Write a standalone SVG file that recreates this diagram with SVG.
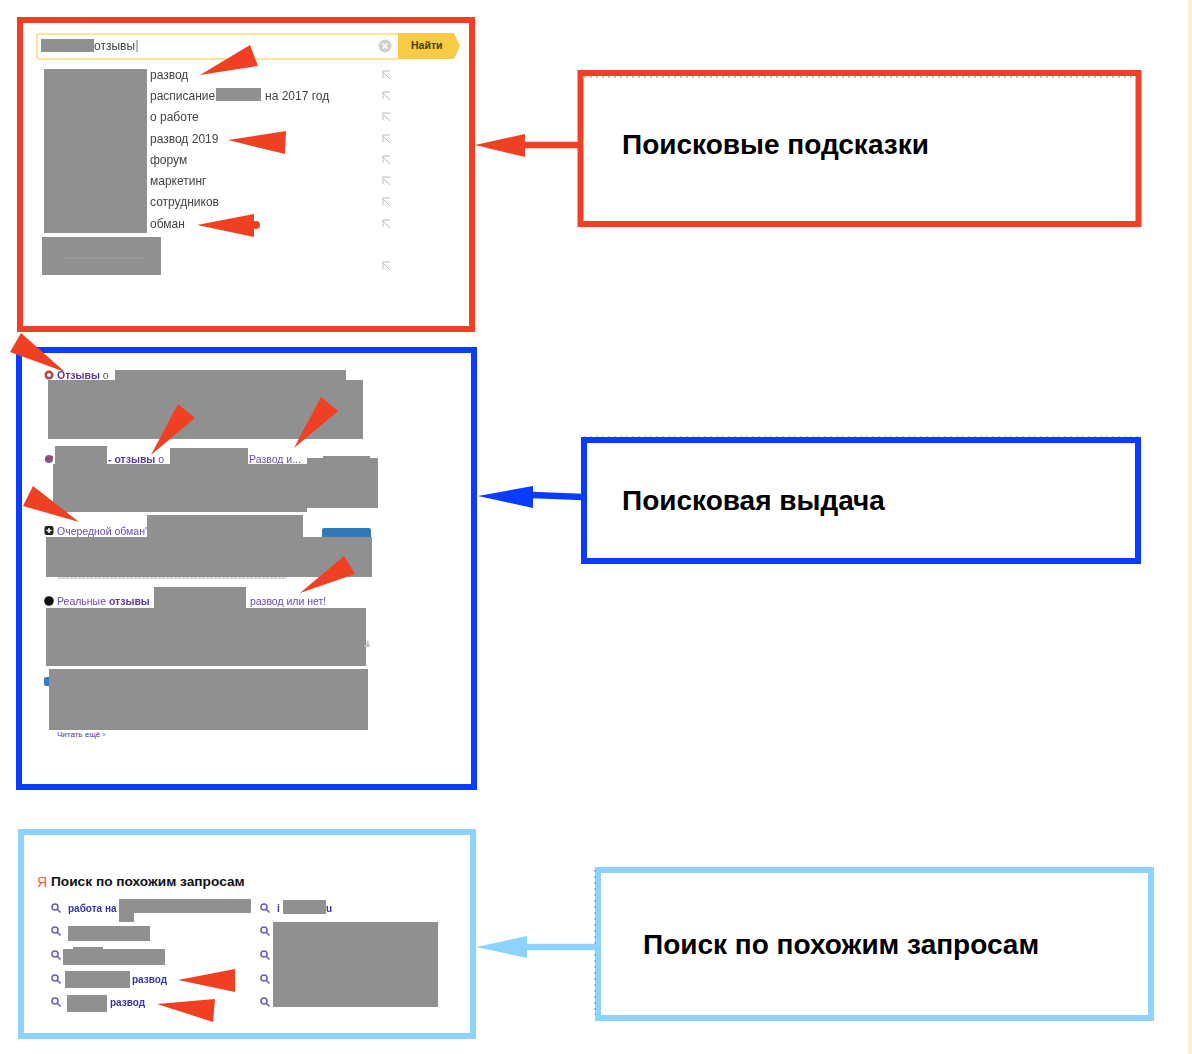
<svg xmlns="http://www.w3.org/2000/svg" width="1192" height="1054" viewBox="0 0 1192 1054">
<style>
text{font-family:"Liberation Sans",Arial,sans-serif}
.box{fill:#fff;stroke-width:6}
.red{stroke:#ef4023}.blue{stroke:#0a3cff}.sky{stroke:#8cd3ff}
.fr{fill:#ef4023}.fb{fill:#0a3cff}.fs{fill:#8cd3ff}
.grey{fill:#909090}
.tip{fill:#ef4023}
.lab{font-size:28px;font-weight:700;fill:#000}
.sug{font-size:12px;fill:#444;filter:blur(.3px)}
.res{font-size:10.5px;fill:#6a4aa8;filter:blur(.3px)}
.resb{font-weight:700;fill:#5a3a9e}
.rel{font-size:10px;font-weight:700;fill:#3a33b0;filter:blur(.3px)}
.ret{fill:none;stroke:#bcbcbc;stroke-width:1}
.mag{fill:none;stroke:#6a5cc0;stroke-width:1.6}
.dot{fill:none;stroke:#555;stroke-width:1;stroke-dasharray:2 4;opacity:.7}
</style>
<defs>
<g id="ret"><path class="ret" d="M-4-5H4M-3-4V2M-3-4L4 3"/></g>
<g id="mag"><circle class="mag" cx="-1" cy="-1" r="3"/><path class="mag" d="M1.2 1.2L4.5 4.5"/></g>
</defs>
<rect width="1192" height="1054" fill="#fff"/>
<rect x="1188" y="0" width="4" height="1054" fill="#ffefc2"/>

<g id="panel-suggestions">
<rect class="box red" x="20" y="20" width="452" height="309"/>
<rect x="37" y="34" width="362" height="25" rx="2" fill="#fff" stroke="#fbdc7e" stroke-width="1.5"/>
<path d="M398 33H454L460 46L454 59H398Z" fill="#f8cb45"/>
<text x="411" y="49" font-size="10.5" font-weight="700" fill="#4a3c10">Найти</text>
<rect class="grey" x="41" y="39" width="53" height="13"/>
<text x="94" y="50" class="sug">отзывы</text>
<path d="M137 40V52" stroke="#555" stroke-width=".8"/>
<circle cx="385" cy="46" r="6.5" fill="#d0d0d0"/>
<path d="M382.500 43.500L387.500 48.500M387.500 43.500L382.500 48.500" stroke="#fff" stroke-width="1.500"/>
<rect class="grey" x="44" y="69" width="103" height="164"/>
<rect class="grey" x="42" y="237" width="119" height="38"/>
<path d="M64 258H144" stroke="#a6a6a6" stroke-width=".7"/>
<path d="M73 100H113M73 100V200M110 110V193" stroke="#999" stroke-width=".6"/>
<text x="150" y="79" class="sug">развод</text>
<text x="150" y="100" class="sug">расписание</text>
<rect class="grey" x="216" y="88" width="45" height="13"/>
<text x="265" y="100" class="sug">на 2017 год</text>
<text x="150" y="121" class="sug">о работе</text>
<text x="150" y="143" class="sug">развод 2019</text>
<text x="150" y="164" class="sug">форум</text>
<text x="150" y="185" class="sug">маркетинг</text>
<text x="150" y="206" class="sug">сотрудников</text>
<text x="150" y="228" class="sug">обман</text>
<use href="#ret" x="386" y="76"/><use href="#ret" x="386" y="97"/><use href="#ret" x="386" y="118"/><use href="#ret" x="386" y="140"/><use href="#ret" x="386" y="161"/><use href="#ret" x="386" y="182"/><use href="#ret" x="386" y="203"/><use href="#ret" x="386" y="225"/><use href="#ret" x="386" y="267"/>
<polygon class="tip" points="200,75 250,45 258,66"/>
<polygon class="tip" points="228,140 286,131 285,154"/>
<polygon class="tip" points="197,225 254,214 254,237"/>
<circle class="tip" cx="256" cy="225" r="4"/>
</g>

<g id="panel-results">
<rect class="box blue" x="19" y="350" width="455" height="437"/>
<circle cx="49" cy="375" r="4.500" fill="#a84a4a"/><circle cx="49" cy="375" r="2" fill="#eee"/>
<text x="57" y="379" class="res"><tspan class="resb">Отзывы</tspan> о</text>
<rect class="grey" x="115" y="370" width="231" height="10"/>
<rect class="grey" x="48" y="380" width="315" height="59"/>
<circle cx="49" cy="459" r="4" fill="#5566bb"/><path d="M45 460L53 457" stroke="#d03030" stroke-width="2"/>
<rect class="grey" x="55" y="446" width="52" height="18"/>
<text x="108" y="463" class="res"><tspan class="resb">- отзывы</tspan> о</text>
<rect class="grey" x="170" y="448" width="78" height="16"/>
<text x="249" y="463" class="res">Развод и...</text>
<rect class="grey" x="53" y="464" width="254" height="48"/>
<rect class="grey" x="307" y="458" width="71" height="50"/>
<rect class="grey" x="323" y="456" width="47" height="2"/>
<rect x="44.500" y="526" width="9" height="9" rx="2" fill="#222"/><path d="M46.500 530.500H51.500M49 528V533" stroke="#fff" stroke-width="1.500"/>
<text x="57" y="535" class="res">Очередной обман'</text>
<rect x="322" y="528" width="49" height="12" rx="2" fill="#2f7ab8"/>
<rect class="grey" x="147" y="515" width="156" height="22"/>
<rect class="grey" x="46" y="537" width="326" height="40"/>
<path d="M58 578H287" stroke="#888" stroke-width=".8" stroke-dasharray="3 1"/>
<circle cx="49" cy="601" r="4.800" fill="#111"/>
<text x="57" y="605" class="res">Реальные <tspan class="resb">отзывы</tspan></text>
<rect class="grey" x="154" y="587" width="92" height="21"/>
<text x="250" y="605" class="res">развод или нет!</text>
<rect class="grey" x="46" y="608" width="320" height="58"/>
<polygon points="364,647 368,640 370,647" fill="#c4c4c4"/>
<rect x="44" y="677" width="8" height="9" rx="2" fill="#3d78c4"/>
<rect class="grey" x="49" y="669" width="319" height="61"/>
<text x="57" y="737" font-size="8" fill="#4a3aa8">Читать ещё ›</text>
<polygon class="tip" points="21,333 10,352 65,372"/>
<polygon class="tip" points="151,455 178,404 195,418"/>
<polygon class="tip" points="294,448 321,397 338,411"/>
<polygon class="tip" points="79,522 33,486 23,506"/>
<polygon class="tip" points="300,593 344,556 355,574"/>
</g>

<g id="panel-related">
<rect class="box sky" x="21" y="832" width="452" height="204"/>
<text x="37" y="887" font-size="14" fill="#ef5a4a">Я</text>
<text x="51" y="886" font-size="13.7" font-weight="700" fill="#111">Поиск по похожим запросам</text>
<use href="#mag" x="56" y="908"/><use href="#mag" x="56" y="931"/><use href="#mag" x="56" y="955"/><use href="#mag" x="56" y="979"/><use href="#mag" x="56" y="1002"/>
<use href="#mag" x="265" y="908"/><use href="#mag" x="265" y="931"/><use href="#mag" x="265" y="955"/><use href="#mag" x="265" y="979"/><use href="#mag" x="265" y="1002"/>
<text x="68" y="912" class="rel">работа на</text>
<rect class="grey" x="119" y="899" width="132" height="14"/>
<rect class="grey" x="119" y="913" width="15" height="9"/>
<rect class="grey" x="68" y="926" width="82" height="15"/>
<rect class="grey" x="63" y="949" width="102" height="16"/>
<rect class="grey" x="73" y="947" width="30" height="2"/>
<rect class="grey" x="65" y="971" width="65" height="17"/>
<text x="132" y="983" class="rel">развод</text>
<rect class="grey" x="67" y="995" width="40" height="17"/>
<text x="110" y="1006" class="rel">развод</text>
<text x="277" y="912" class="rel">i</text>
<rect class="grey" x="283" y="900" width="43" height="14"/>
<text x="326" y="912" class="rel">u</text>
<rect class="grey" x="273" y="922" width="165" height="85"/>
<polygon class="tip" points="178,980 235,969 235,992"/>
<polygon class="tip" points="157,1004 215,999 213,1022"/>
</g>

<g id="node-suggestions">
<rect class="box red" x="580.500" y="73" width="558" height="151"/>
<path class="dot" d="M584 77H1135"/>
<text x="622" y="154" class="lab">Поисковые подсказки</text>
</g>
<g id="node-results">
<rect class="box blue" x="584" y="440" width="554" height="121"/>
<path class="dot" d="M584 437H1138"/>
<text x="622" y="510" class="lab">Поисковая выдача</text>
</g>
<g id="node-related">
<rect class="box sky" x="598" y="870" width="553" height="148"/>
<path class="dot" d="M595 870V1015" stroke="#8a9aa8"/>
<text x="643" y="954" class="lab">Поиск по похожим запросам</text>
</g>

<g id="connectors">
<path d="M525 145H580" stroke="#ef4023" stroke-width="6.500" fill="none"/>
<polygon class="fr" points="475,145 525,134 525,157"/>
<path d="M532 495L583 497" stroke="#0a3cff" stroke-width="6.500" fill="none"/>
<polygon class="fb" points="478,496 533,486 533,508"/>
<path d="M526 947H597" stroke="#8cd3ff" stroke-width="6.500" fill="none"/>
<polygon class="fs" points="476,947 527,936 527,958"/>
</g>
</svg>
